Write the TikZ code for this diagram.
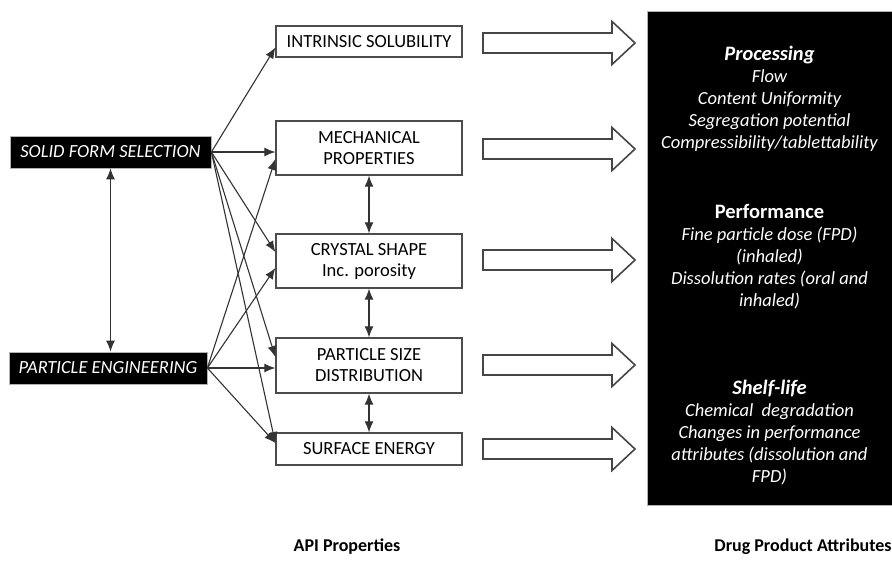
\documentclass[tikz,border=0pt]{standalone}
\usepackage{fontspec}
\setmainfont{Carlito}
\usetikzlibrary{arrows.meta}
\newcommand\grouphead[1]{{\fontsize{20.5}{22}\selectfont\bfseries #1}}
\begin{document}
\begin{tikzpicture}[x=1pt,y=-1pt,
  darkbox/.style={fill=black, draw=gray!60, line width=0.8pt, text=white,
    font=\fontsize{18.5}{22}\selectfont\itshape, inner sep=0pt, minimum height=32},
  propbox/.style={draw=gray!60!black, line width=1.3pt, fill=white, minimum width=186,
    align=center, font=\fontsize{18.5}{21}\selectfont, inner sep=0pt},
  tip/.tip={Latex[length=11pt,width=9pt]},
  link/.style={draw=black!80, line width=1.1pt, -tip},
  twoway/.style={draw=black!80, line width=1.1pt, tip-tip},
  attr/.style={text=white, align=center, font=\fontsize{18.5}{22}\selectfont\itshape},
  caption/.style={font=\fontsize{18}{22}\selectfont\bfseries},
  hollow/.pic={
    \draw[draw=gray!55!black, line width=1.6pt, fill=white, line join=miter]
      (0,-10) -- (129,-10) -- (129,-21.5) -- (152,0) -- (129,21.5) -- (129,10) -- (0,10) -- cycle;
  }
]
\useasboundingbox (0,0) rectangle (892,562);

% starting points
\node[darkbox, minimum width=201] (sfs) at (110.5,152) {SOLID FORM SELECTION};
\node[darkbox, minimum width=198] (pe) at (108,368) {PARTICLE ENGINEERING};

% API properties
\node[propbox, minimum height=31] (is) at (369,41.5) {INTRINSIC SOLUBILITY};
\node[propbox, minimum height=54] (mp) at (369,148) {MECHANICAL\\PROPERTIES};
\node[propbox, minimum height=54] (cs) at (369,261) {CRYSTAL SHAPE\\Inc. porosity};
\node[propbox, minimum height=55] (psd) at (369,365.5) {PARTICLE SIZE\\DISTRIBUTION};
\node[propbox, minimum height=32] (se) at (369,449) {SURFACE ENERGY};

% drug product attributes panel
\node[fill=black, draw=gray!60, line width=0.8pt, minimum width=245, minimum height=494, inner sep=0pt]
  (panel) at (769.5,258) {};
\node[attr] (proc) at (769.5,99) {\grouphead{Processing}\\Flow\\Content Uniformity\\Segregation potential\\Compressibility/tablettability};
\node[attr] (perf) at (769.5,257) {\grouphead{\upshape Performance}\\Fine particle dose (FPD)\\(inhaled)\\Dissolution rates (oral and\\inhaled)};
\node[attr] (shelf) at (769.5,433) {\grouphead{Shelf-life}\\Chemical~ degradation\\Changes in performance\\attributes (dissolution and\\FPD)};

% captions
\node[caption] (apicap) at (347,547) {API Properties};
\node[caption] (dpcap) at (803,547) {Drug Product Attributes};

% links between the two starting points
\draw[twoway] (sfs.south) -- (sfs.south |- pe.north);

% solid form selection to API properties
\draw[link] (sfs.east) -- ([yshift=-6pt]is.west);
\draw[link] (sfs.east) -- ([yshift=-4pt]mp.west);
\draw[link] (sfs.east) -- ([yshift=9pt]cs.west);
\draw[link] (sfs.east) -- ([yshift=8.5pt]psd.west);
\draw[link] (sfs.east) -- ([yshift=6pt]se.west);

% particle engineering to API properties
\draw[link] (pe.east) -- ([yshift=-11pt]mp.west);
\draw[link] (pe.east) -- ([yshift=-7pt]cs.west);
\draw[link] (pe.east) -- ([yshift=-2.5pt]psd.west);
\draw[link] (pe.east) -- ([yshift=6pt]se.west);

% links between API properties
\draw[twoway] (mp.south) -- (cs.north);
\draw[twoway] (cs.south) -- (psd.north);
\draw[twoway] (psd.south) -- (se.north);

% block arrows towards the attributes panel
\foreach \yy in {43,149,260,365,449}
  \pic at (483,\yy) {hollow};
\end{tikzpicture}
\end{document}
